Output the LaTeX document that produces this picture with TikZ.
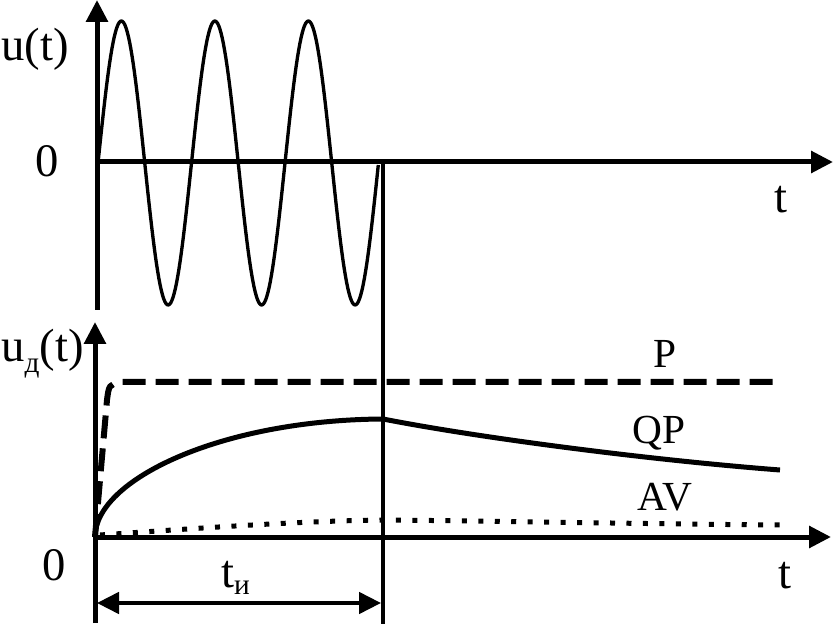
\documentclass[tikz,border=0pt]{standalone}
\usepackage{fontspec}
\setmainfont{Liberation Serif}
\newfontfamily\tms{Liberation Serif}
\usetikzlibrary{arrows.meta}
\begin{document}
\begin{tikzpicture}[x=0.75pt,y=-0.75pt,
  axis/.style={line width=3.75pt,-{Triangle[length=16.5pt,width=16pt]}},
  sig/.style={line width=2.5pt},
  marker/.style={line width=3pt},
  pcurve/.style={line width=4.5pt,dash pattern=on 17.25pt off 7.5pt},
  qpcurve/.style={line width=3.75pt},
  avcurve/.style={line width=3.75pt,dash pattern=on 3.75pt off 8.6pt},
  dim/.style={line width=2.8pt,{Triangle[length=16.5pt,width=16pt]}-{Triangle[length=16.5pt,width=16pt]}},
  lbl/.style={inner sep=0pt,font=\tms\fontsize{35}{40}\selectfont},
  clbl/.style={inner sep=0pt,font=\tms\fontsize{31}{36}\selectfont}]
\useasboundingbox (0,0) rectangle (833,624);
% coordinates
\coordinate (o1) at (97,162);
\coordinate (y1b) at (97,310);
\coordinate (y1t) at (97,0);
\coordinate (x1e) at (833,162);
\coordinate (o2) at (95,537);
\coordinate (y2b) at (95,623);
\coordinate (y2t) at (95,322);
\coordinate (x2e) at (831,537);
\coordinate (mt) at (383,162);
\coordinate (mb) at (383,624);
\coordinate (dl) at (97,603);
\coordinate (dr) at (381,603);
% axes
\draw[axis] (y1b) -- (y1t);
\draw[axis] (o1) -- (x1e);
\draw[axis] (y2b) -- (y2t);
\draw[axis] (o2) -- (x2e);
% end-of-pulse marker
\draw[marker] (mt) -- (mb);
% sine
\draw[sig,line join=round] plot[domain=0:3,samples=240] ({98+93.5*\x},{163-142*sin(360*\x)});
% P
\draw[pcurve] (o2) -- (107,400) .. controls (109,385) .. (120,382) -- (780,382);
% QP
\draw[qpcurve] (o2) .. controls (95,480) and (220,420) .. (383,419)
  .. controls (480,438) and (650,460) .. (780,470);
% AV
\draw[avcurve] (100,535) .. controls (200,528) and (300,521) .. (383,520)
  .. controls (500,521) and (650,524) .. (780,525);
% duration
\draw[dim] (dl) -- (dr);
% labels
\node[lbl,anchor=base west] (lu) at (1,61) {u(t)};
\node[lbl,anchor=base] (l01) at (47.5,177) {0};
\node[lbl,anchor=base] (lt1) at (781,213) {t};
\node[lbl,anchor=base west] (lud) at (1,362) {u\raisebox{-0.22em}{\tms\fontsize{22}{22}\selectfont д}(t)};
\node[lbl,anchor=base] (l02) at (54,580) {0};
\node[lbl,anchor=base] (lt2) at (785,588) {t};
\node[clbl,anchor=base] (lp) at (665,368) {P};
\node[clbl,anchor=base] (lqp) at (659,443) {QP};
\node[clbl,anchor=base] (lav) at (665,510) {AV};
\node[lbl,anchor=base west] (lti) at (221,587) {t\raisebox{-0.15em}{\tms\fontsize{22}{22}\selectfont и}};
\end{tikzpicture}
\end{document}
